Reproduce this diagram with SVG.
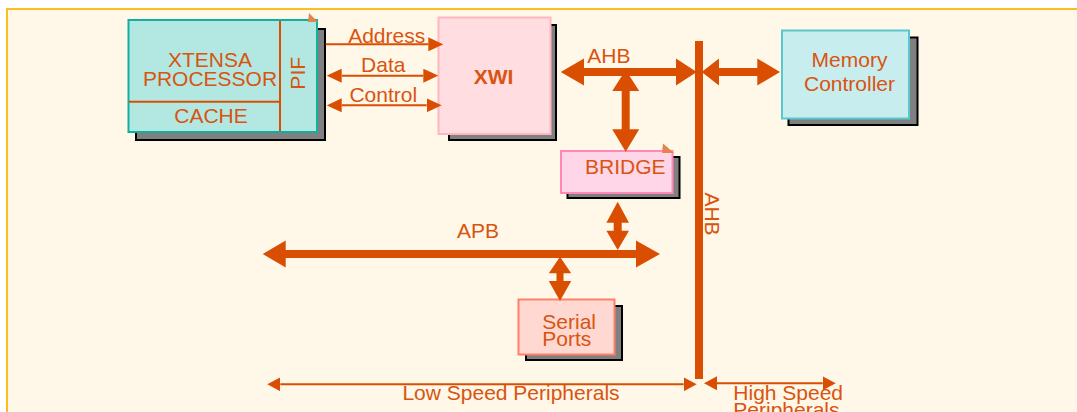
<svg xmlns="http://www.w3.org/2000/svg" width="1077" height="412" viewBox="0 0 1077 412">
<style>
.t{font-family:"Liberation Sans",Arial,sans-serif;font-size:21px;fill:#D9540F}
.m{text-anchor:middle}
.sh{fill:#808080;stroke:#000;stroke-width:2}
.bus{fill:#D94E00}
.thin{stroke:#D94E00;stroke-width:2;fill:none}
.div{stroke:#D94E00;stroke-width:2}
.corner{fill:#E38450}
</style>
<defs>
<marker id="ah" viewBox="0 0 15 14" refX="0" refY="7" markerWidth="15" markerHeight="14" markerUnits="userSpaceOnUse" orient="auto-start-reverse"><path d="M0,0 L15,7 L0,14 z" fill="#D94E00"/></marker>
<marker id="ah2" viewBox="0 0 13 14" refX="0" refY="7" markerWidth="13" markerHeight="14" markerUnits="userSpaceOnUse" orient="auto-start-reverse"><path d="M0,0 L13,7 L0,14 z" fill="#D94E00"/></marker>
</defs>
<rect x="0" y="0" width="1077" height="412" fill="#fff"/>
<rect x="7" y="9" width="1080" height="410" fill="#FFF7E8" stroke="#FDBD1C" stroke-width="2"/>

<g id="xtensa">
<rect class="sh" x="136" y="29" width="189" height="111"/>
<rect x="128.5" y="20" width="188.5" height="112" fill="#B3E8E2" stroke="#10AFA0" stroke-width="2"/>
<line class="div" x1="129" y1="101.7" x2="280" y2="101.7"/>
<line class="div" x1="280" y1="21" x2="280" y2="131"/>
<polygon class="corner" points="309,13 318,22 308,22"/>
<text class="t m" x="210" y="66.7">XTENSA</text>
<text class="t m" x="210" y="86">PROCESSOR</text>
<text class="t m" x="211" y="122.7">CACHE</text>
<text class="t m" transform="translate(305,73.3) rotate(-90)">PIF</text>
</g>

<g id="xwi">
<rect class="sh" x="449" y="25" width="107" height="115"/>
<rect x="438.5" y="17.5" width="112" height="116.5" fill="#FFDDE1" stroke="#FFB6C0" stroke-width="2"/>
<text class="t m" x="493.5" y="84.3" font-weight="bold">XWI</text>
</g>

<g id="memory">
<rect class="sh" x="788.5" y="37.5" width="129" height="87.5"/>
<rect x="782" y="30.5" width="127" height="88" fill="#C8EDEF" stroke="#58C8D0" stroke-width="2"/>
<text class="t m" x="849.5" y="66.7">Memory</text>
<text class="t m" x="849.5" y="90.7">Controller</text>
</g>

<g id="bridge">
<rect class="sh" x="567.5" y="157" width="112" height="41"/>
<rect x="561" y="151" width="111.5" height="42" fill="#FFD6E8" stroke="#FF88B8" stroke-width="2"/>
<polygon class="corner" points="663,143.5 674,153 662,153"/>
<text class="t m" x="625.3" y="174">BRIDGE</text>
</g>

<g id="serial">
<rect class="sh" x="526" y="306" width="96" height="54"/>
<rect x="518.5" y="299.5" width="96" height="55" fill="#FFD8D2" stroke="#FF8068" stroke-width="2"/>
<text class="t" x="542.3" y="329.3">Serial</text>
<text class="t" x="542.3" y="345.7">Ports</text>
</g>

<g id="connectors">
<line class="thin" x1="325.7" y1="44.3" x2="428.3" y2="44.3" marker-end="url(#ah)"/>
<line class="thin" x1="341.7" y1="75.7" x2="423.3" y2="75.7" marker-start="url(#ah)" marker-end="url(#ah)"/>
<line class="thin" x1="341.7" y1="105.3" x2="426.7" y2="105.3" marker-start="url(#ah)" marker-end="url(#ah)"/>
<rect class="bus" x="695" y="41" width="8" height="338"/>
<polygon class="bus" points="560.7,72 584,58.5 584,68 676,68 676,58.5 696.7,72 676,85.5 676,76 584,76 584,85.5"/>
<polygon class="bus" points="701.7,72 719,58.5 719,68 757.3,68 757.3,58.5 780,72 757.3,85.5 757.3,76 719,76 719,85.5"/>
<polygon class="bus" points="625.7,70 639.2,91 629.7,91 629.7,129.3 639.2,129.3 625.7,151.7 612.2,129.3 621.7,129.3 621.7,91 612.2,91"/>
<polygon class="bus" points="262.7,254 285.7,240.5 285.7,250 636,250 636,240.5 660,254 636,267.5 636,258 285.7,258 285.7,267.5"/>
<polygon class="bus" points="617.7,201.7 629,222.7 621.7,222.7 621.7,230.7 629,230.7 617.7,250 606.4,230.7 613.7,230.7 613.7,222.7 606.4,222.7"/>
<polygon class="bus" points="560,256.7 571.2,273.3 563.5,273.3 563.5,281 571.2,281 560,301 548.8,281 556.5,281 556.5,273.3 548.8,273.3"/>
<line class="thin" stroke-width="2.5" x1="280.3" y1="384.3" x2="683.7" y2="384.3" marker-start="url(#ah2)" marker-end="url(#ah2)"/>
<line class="thin" stroke-width="2.5" x1="717" y1="383.3" x2="822.7" y2="383.3" marker-start="url(#ah2)" marker-end="url(#ah2)"/>
<text class="t m" x="608.8" y="62.5">AHB</text>
<text class="t m" transform="translate(705,214) rotate(90)">AHB</text>
<text class="t m" x="478" y="237.7">APB</text>
<text class="t m" x="386.7" y="42.7">Address</text>
<text class="t m" x="383.3" y="71.7">Data</text>
<text class="t m" x="383.3" y="102.3">Control</text>
<text class="t m" x="511" y="400">Low Speed Peripherals</text>
<text class="t" x="733.3" y="400">High Speed</text>
<text class="t" x="733.3" y="417">Peripherals</text>
</g>
</svg>
